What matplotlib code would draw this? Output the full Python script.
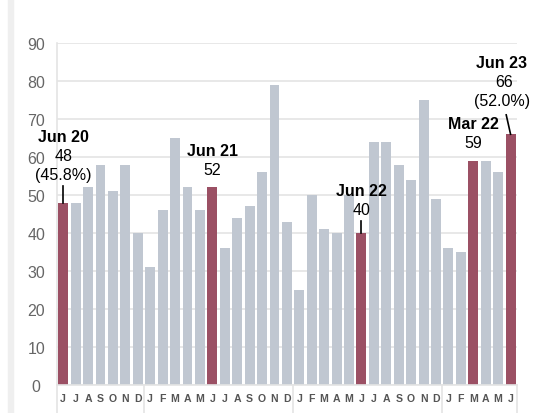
import matplotlib.pyplot as plt
from matplotlib.patches import Rectangle
import matplotlib.transforms as mtransforms

plt.rcParams['font.family'] = ['Liberation Sans', 'DejaVu Sans']

# monthly values, Jun 2020 .. Jun 2023
months = ['J', 'J', 'A', 'S', 'O', 'N', 'D',
          'J', 'F', 'M', 'A', 'M', 'J', 'J', 'A', 'S', 'O', 'N', 'D',
          'J', 'F', 'M', 'A', 'M', 'J', 'J', 'A', 'S', 'O', 'N', 'D',
          'J', 'F', 'M', 'A', 'M', 'J']
values = [48, 48, 52, 58, 51, 58, 40,
          31, 46, 65, 52, 46, 52, 36, 44, 47, 56, 79, 43,
          25, 50, 41, 40, 50, 40, 64, 64, 58, 54, 75, 49,
          36, 35, 59, 59, 56, 66]
highlight = [0, 12, 24, 33, 36]
year_breaks = [-0.5, 6.5, 18.5, 30.5, 36.5]

# callouts: index, bold title, value lines
callouts = [
    (0, 'Jun 20', ['48', '(45.8%)']),
    (12, 'Jun 21', ['52']),
    (24, 'Jun 22', ['40']),
    (33, 'Mar 22', ['59']),
    (36, 'Jun 23', ['66', '(52.0%)']),
]

gray = '#c0c7d1'
red = '#9b5064'
grid_c = '#e4e4e4'

fig = plt.figure(figsize=(5.4, 4.14), dpi=100)
ax = fig.add_axes([0.1056, 0.0676, 0.8514, 0.826])

# light stripe at the left edge of the page
fig.patches.append(Rectangle((0.015, 0), 0.009, 1, transform=fig.transFigure,
                             color='#efefef', zorder=0))

x = list(range(len(values)))
colors = [red if i in highlight else gray for i in x]
ax.bar(x, values, width=0.8, color=colors, zorder=2)

ax.set_xlim(-0.5, 36.5)
ax.set_ylim(0, 90)
ax.set_yticks(range(0, 91, 10))
ax.yaxis.grid(True, color=grid_c, linewidth=1.2, zorder=0)
ax.set_xticks(x)
ax.set_xticklabels(months, fontsize=7.6, fontweight='bold', color='#555555')
ax.tick_params(axis='x', length=0, pad=6)
ax.tick_params(axis='y', length=0, pad=15, labelsize=11.5, labelcolor='#666666')
for lab in ax.get_yticklabels():
    lab.set_horizontalalignment('center')

for side in ['top', 'right']:
    ax.spines[side].set_visible(False)
ax.spines['left'].set_color(grid_c)
ax.spines['left'].set_linewidth(1.2)
ax.spines['bottom'].set_color(grid_c)
ax.spines['bottom'].set_linewidth(1.2)

# year separators below the axis
trans = mtransforms.blended_transform_factory(ax.transData, ax.transAxes)
for b in year_breaks:
    ax.plot([b, b], [0, -0.09], transform=trans, color=grid_c,
            linewidth=1.2, clip_on=False)

# callout labels
pos = {
    0: (0, 65.5),
    12: (12, 61.8),
    24: (24, 51.3),
    33: (33, 68.9),
    36: (35.3, 85.0),
}
for idx, title, lines in callouts:
    tx, ty = pos[idx]
    ax.text(tx, ty, title, ha='center', va='center', fontsize=11.5,
            fontweight='bold', color='black', zorder=4)
    for k, line in enumerate(lines):
        ax.text(tx + (0.15 if idx == 36 and k == 0 else 0), ty - 5 * (k + 1), line,
                ha='center', va='center', fontsize=11.5, color='black', zorder=4)

# leader lines
ax.plot([0, 0], [52.4, values[0]], color='black', linewidth=1.2, zorder=3)
ax.plot([24, 24], [43.2, values[24]], color='black', linewidth=1.2, zorder=3)
ax.plot([35.65, 36.0], [71.1, values[36]], color='black', linewidth=1.2, zorder=3)

fig.savefig('out.png', dpi=100)
